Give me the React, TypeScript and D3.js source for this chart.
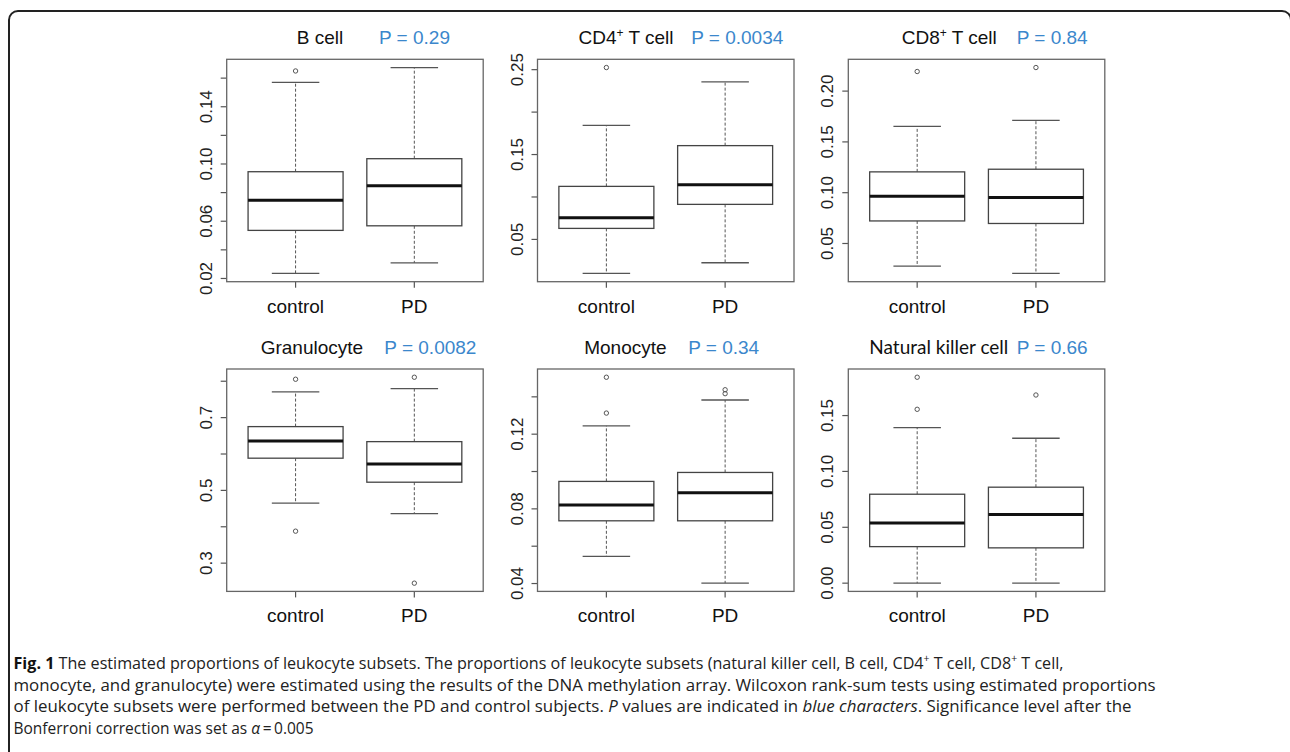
import React, { useEffect, useRef } from "react";
import * as d3 from "d3";

const panelNames = ["B cell", "CD4", "CD8", "Granulocyte", "Monocyte", "Natural killer cell"];
const panelSup = ["", "+", "+", "", "", ""];
const panelSuffix = ["", " T cell", " T cell", "", "", ""];
const pValues = ["0.29", "0.0034", "0.84", "0.0082", "0.34", "0.66"];
const groups = ["control", "PD"];

// [lower whisker, Q1, median, Q3, upper whisker]
const controlStats = [
  [0.0235, 0.0536, 0.0746, 0.0946, 0.157],
  [0.0099, 0.063, 0.0756, 0.1125, 0.1844],
  [0.0277, 0.0722, 0.0966, 0.1205, 0.1652],
  [0.4648, 0.5885, 0.636, 0.6753, 0.7706],
  [0.0545, 0.0736, 0.0821, 0.0947, 0.1245],
  [0.0, 0.0327, 0.0539, 0.0796, 0.1392],
];
const pdStats = [
  [0.0309, 0.0568, 0.0848, 0.1037, 0.1674],
  [0.0225, 0.0913, 0.1145, 0.1605, 0.2355],
  [0.0205, 0.0697, 0.0953, 0.1231, 0.1711],
  [0.4363, 0.5225, 0.5728, 0.634, 0.7797],
  [0.0402, 0.0736, 0.0886, 0.0995, 0.1383],
  [0.0, 0.0316, 0.0614, 0.0859, 0.1297],
];
const controlOutliers = [[0.165], [0.2525], [0.2193], [0.8055, 0.3879], [0.1505, 0.1313], [0.1843, 0.1556]];
const pdOutliers = [[], [], [0.2232], [0.811, 0.245], [0.1438, 0.1417], [0.1684]];

const yTicks = [
  [0.02, 0.04, 0.06, 0.08, 0.1, 0.12, 0.14, 0.16],
  [0.05, 0.1, 0.15, 0.2, 0.25],
  [0.05, 0.1, 0.15, 0.2],
  [0.3, 0.4, 0.5, 0.6, 0.7, 0.8],
  [0.04, 0.06, 0.08, 0.1, 0.12, 0.14],
  [0.0, 0.05, 0.1, 0.15],
];
const yTickLabels = [
  ["0.02", "0.06", "0.10", "0.14"],
  ["0.05", "0.15", "0.25"],
  ["0.05", "0.10", "0.15", "0.20"],
  ["0.3", "0.5", "0.7"],
  ["0.04", "0.08", "0.12"],
  ["0.00", "0.05", "0.10", "0.15"],
];

// caption pieces: [text, weight/style]
const captionLines = [
  [["Fig. 1", "b"], [" The estimated proportions of leukocyte subsets. The proportions of leukocyte subsets (natural killer cell, B cell, CD4", ""], ["+", "sup"], [" T cell, CD8", ""], ["+", "sup"], [" T cell,", ""]],
  [["monocyte, and granulocyte) were estimated using the results of the DNA methylation array. Wilcoxon rank-sum tests using estimated proportions", ""]],
  [["of leukocyte subsets were performed between the PD and control subjects. ", ""], ["P", "i"], [" values are indicated in ", ""], ["blue characters", "i"], [". Significance level after the", ""]],
  [["Bonferroni correction was set as ", ""], ["α", "i"], ["\u2009=\u20090.005", ""]],
];
// fitted widths of the long lines; last line keeps its own width
const captionWidths = [1050, 1142, 1118, 0];

// layout
const colLeft = [226.7, 537.5, 848.3];
const rowTop = [59.3, 369];
const plotW = 256.5;
const plotH = 222.4;
const titleNameX = [70, 41, 53.4, 34, 46.7, 160];
const titlePX = [152.3, 153.7, 168.4, 157.6, 150.7, 168.4];
const font = "'Liberation Sans', Arial, sans-serif";

function App() {
  const ref = useRef(null);

  useEffect(() => {
    const svg = d3.select(ref.current);
    svg.selectAll("*").remove();

    // outer frame
    svg
      .append("rect")
      .attr("x", 9)
      .attr("y", 11)
      .attr("width", 1282)
      .attr("height", 800)
      .attr("rx", 9)
      .attr("fill", "none")
      .attr("stroke", "#222")
      .attr("stroke-width", 2);

    panelNames.forEach((name, i) => {
      const left = colLeft[i % 3];
      const top = rowTop[Math.floor(i / 3)];
      const all = [...controlStats[i], ...pdStats[i], ...controlOutliers[i], ...pdOutliers[i]];
      const [lo, hi] = d3.extent(all);
      const pad = (hi - lo) * 0.04;
      const y = d3.scaleLinear().domain([lo - pad, hi + pad]).range([top + plotH, top]);
      const x = d3.scaleLinear().domain([0.42, 2.58]).range([left, left + plotW]);
      const g = svg.append("g");

      // title (the NK panel title is right-aligned against its P value)
      const t = g
        .append("text")
        .attr("x", left + titleNameX[i])
        .attr("y", top - 15.5)
        .attr("text-anchor", i === 5 ? "end" : "start")
        .attr("font-family", i === 5 ? "Lato, sans-serif" : font)
        .attr("font-size", 19)
        .attr("fill", "#111");
      t.append("tspan").text(name);
      if (panelSup[i]) {
        t.append("tspan").attr("dy", -7).attr("font-size", 12).text(panelSup[i]);
        t.append("tspan").attr("dy", 7).text(panelSuffix[i]);
      }
      g.append("text")
        .attr("x", left + titlePX[i])
        .attr("y", top - 15.5)
        .attr("font-family", font)
        .attr("font-size", 19)
        .attr("fill", "#3b87cc")
        .text(`P = ${pValues[i]}`);

      // y axis
      yTicks[i].forEach((v) => {
        g.append("line")
          .attr("x1", left)
          .attr("x2", left - 6)
          .attr("y1", y(v))
          .attr("y2", y(v))
          .attr("stroke", "#555")
          .attr("stroke-width", 1.2);
      });
      yTickLabels[i].forEach((s) => {
        g.append("text")
          .attr("transform", `translate(${left - 15},${y(+s)}) rotate(-90)`)
          .attr("text-anchor", "middle")
          .attr("font-family", font)
          .attr("font-size", 17)
          .attr("fill", "#222")
          .text(s);
      });

      // x axis
      groups.forEach((grp, j) => {
        g.append("line")
          .attr("x1", x(j + 1))
          .attr("x2", x(j + 1))
          .attr("y1", top + plotH)
          .attr("y2", top + plotH + 6)
          .attr("stroke", "#555")
          .attr("stroke-width", 1.2);
        g.append("text")
          .attr("x", x(j + 1))
          .attr("y", top + plotH + 31)
          .attr("text-anchor", "middle")
          .attr("font-family", font)
          .attr("font-size", 19)
          .attr("fill", "#111")
          .text(grp);
      });

      // boxes
      [controlStats[i], pdStats[i]].forEach((s, j) => {
        const c = j + 1;
        const [lw, q1, med, q3, uw] = s;
        // whiskers
        [[q3, uw], [q1, lw]].forEach(([a, b]) => {
          g.append("line")
            .attr("x1", x(c))
            .attr("x2", x(c))
            .attr("y1", y(a))
            .attr("y2", y(b))
            .attr("stroke", "#555")
            .attr("stroke-width", 1)
            .attr("stroke-dasharray", "3,2");
        });
        [uw, lw].forEach((v) => {
          g.append("line")
            .attr("x1", x(c - 0.2))
            .attr("x2", x(c + 0.2))
            .attr("y1", y(v))
            .attr("y2", y(v))
            .attr("stroke", "#555")
            .attr("stroke-width", 1.3);
        });
        g.append("rect")
          .attr("x", x(c - 0.4))
          .attr("y", y(q3))
          .attr("width", x(c + 0.4) - x(c - 0.4))
          .attr("height", y(q1) - y(q3))
          .attr("fill", "white")
          .attr("stroke", "#444")
          .attr("stroke-width", 1.3);
        g.append("line")
          .attr("x1", x(c - 0.4))
          .attr("x2", x(c + 0.4))
          .attr("y1", y(med))
          .attr("y2", y(med))
          .attr("stroke", "#111")
          .attr("stroke-width", 3);
      });

      // outliers
      [controlOutliers[i], pdOutliers[i]].forEach((arr, j) => {
        arr.forEach((v) => {
          g.append("circle")
            .attr("cx", x(j + 1))
            .attr("cy", y(v))
            .attr("r", 2.2)
            .attr("fill", "none")
            .attr("stroke", "#555")
            .attr("stroke-width", 1);
        });
      });

      // plot border
      g.append("rect")
        .attr("x", left)
        .attr("y", top)
        .attr("width", plotW)
        .attr("height", plotH)
        .attr("fill", "none")
        .attr("stroke", "#666")
        .attr("stroke-width", 1.3);
    });

    // caption
    captionLines.forEach((parts, k) => {
      const t = svg
        .append("text")
        .attr("x", 13.5)
        .attr("y", 669 + k * 21.7)
        .attr("font-family", "'Open Sans', sans-serif")
        .attr("font-size", 15.5)
        .attr("fill", "#222");
      if (captionWidths[k]) {
        t.attr("textLength", captionWidths[k]).attr("lengthAdjust", "spacingAndGlyphs");
      }
      parts.forEach(([txt, st]) => {
        const sp = t.append("tspan").text(txt);
        if (st === "b") sp.attr("font-weight", "bold").attr("fill", "#111");
        if (st === "i") sp.attr("font-style", "italic");
        if (st === "sup") sp.attr("font-size", 10).attr("baseline-shift", "super");
      });
    });
  }, []);

  return (
    <svg
      ref={ref}
      width={1290}
      height={752}
      style={{ position: "absolute", left: 0, top: 0, background: "white" }}
    />
  );
}

export default App;
